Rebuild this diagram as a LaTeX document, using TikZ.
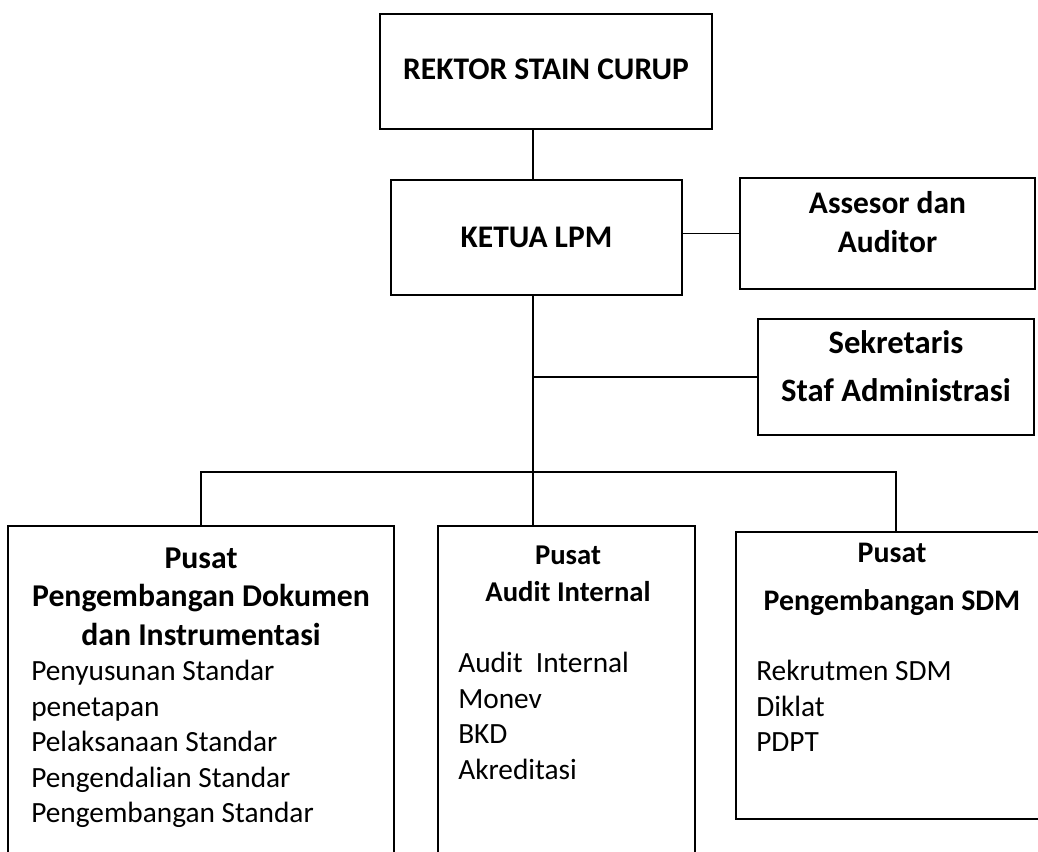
\documentclass[tikz,border=0pt]{standalone}
\usepackage{fontspec}
\setmainfont{Carlito}
\begin{document}
\begin{tikzpicture}[x=0.75pt, y=-0.75pt]
    % Gaya
    \tikzstyle{kotak}=[draw, line width=1.4pt, inner sep=0pt, align=center, font=\bfseries\fontsize{23.6}{29}\selectfont]
    \tikzstyle{pusat}=[draw, line width=1.4pt, inner sep=0pt]
    \tikzstyle{judul}=[inner sep=0pt, align=center, font=\bfseries\fontsize{23.8}{28.9}\selectfont]
    \tikzstyle{daftar}=[inner sep=0pt, anchor=west, align=left, font=\fontsize{22}{26.7}\selectfont]
    \tikzstyle{garis}=[line width=1.4pt]

    \useasboundingbox (0,0) rectangle (1038,852);

    % Pimpinan
    \node[kotak, minimum width=249pt, minimum height=86.25pt, text depth=4pt] (rektor) at (546,71.5) {REKTOR STAIN CURUP};
    \node[kotak, minimum width=218.25pt, minimum height=86.25pt] (ketua) at (536.5,237.5) {KETUA LPM};
    \node[kotak, minimum width=221.25pt, minimum height=83.25pt, text depth=17pt] (asesor) at (887.5,233.5) {Assesor dan\\Auditor};
    \node[kotak, minimum width=207pt, minimum height=87pt, text depth=16pt, font=\bfseries\fontsize{24.5}{36}\selectfont] (sekretaris) at (896,377) {Sekretaris\\Staf Administrasi};

    % Pusat-pusat
    \node[pusat, minimum width=289.5pt, minimum height=280.5pt] (pdi) at (201,713) {};
    \node[pusat, minimum width=192.75pt, minimum height=280.5pt] (pai) at (566.5,713) {};
    \node[pusat, minimum width=240pt, minimum height=215.25pt] (psdm) at (896,675.5) {};

    % Isi pusat
    \node[judul] (pdi-judul) at (201,596.5) {Pusat\\Pengembangan Dokumen\\dan Instrumentasi};
    \node[daftar] (pdi-isi) at (31,744) {Penyusunan Standar\\penetapan\\Pelaksanaan Standar\\Pengendalian Standar\\Pengembangan Standar};
    \node[judul, font=\bfseries\fontsize{21.5}{27.75}\selectfont] (pai-judul) at (568,573.5) {Pusat\\Audit Internal};
    \node[daftar] (pai-isi) at (458,716) {Audit\ \ Internal\\Monev\\BKD\\Akreditasi};
    \node[judul, font=\bfseries\fontsize{22.4}{36}\selectfont] (psdm-judul) at (892,579.5) {Pusat\\Pengembangan SDM};
    \node[daftar] (psdm-isi) at (756,706) {Rekrutmen SDM\\Diklat\\PDPT};

    % Garis
    \coordinate (tengah) at (533,472);
    \draw[garis] (rektor.south -| tengah) -- (ketua.north -| tengah);
    \draw[garis] (asesor.west -| ketua.east) -- (asesor.west);
    \draw[garis] (ketua.south -| tengah) -- (pai.north -| tengah);
    \draw[garis] (sekretaris.west -| tengah) -- (sekretaris.west);
    \draw[garis] (pdi.north) |- (tengah) -| (psdm.north);
\end{tikzpicture}
\end{document}
